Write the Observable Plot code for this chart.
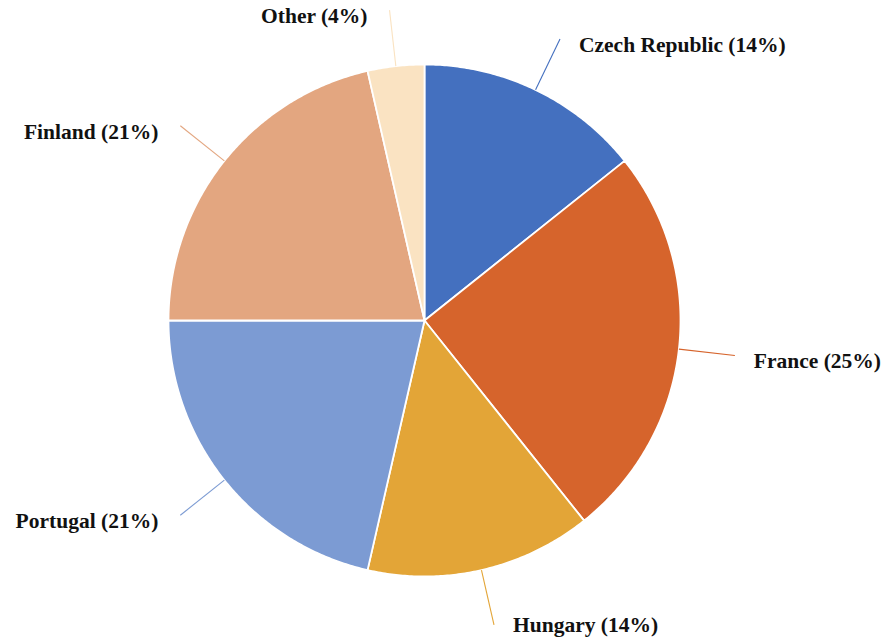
<!DOCTYPE html>
<html>
<head>
<meta charset="utf-8">
<script src="https://cdn.jsdelivr.net/npm/d3@7"></script>
<script src="https://cdn.jsdelivr.net/npm/@observablehq/plot@0.6"></script>
<style>
  html, body { margin: 0; padding: 0; background: #ffffff; }
  #chart { width: 888px; height: 641px; }
</style>
</head>
<body>
<div id="chart"></div>
<script>
// Data
const categories = ["Czech Republic", "France", "Hungary", "Portugal", "Finland", "Other"];
const values = [4, 7, 4, 6, 6, 1];            // shares (sum 28)
const percentLabels = ["14%", "25%", "14%", "21%", "21%", "4%"];
const colors = ["#4470BF", "#D6642C", "#E3A537", "#7C9BD3", "#E3A680", "#FAE3C2"];

// Build pie geometry from values (angles clockwise from 12 o'clock)
const total = d3.sum(values);
let acc = 0;
const slices = categories.map((name, i) => {
  const a0 = acc / total * 2 * Math.PI;
  acc += values[i];
  const a1 = acc / total * 2 * Math.PI;
  return {name, a0, a1, mid: (a0 + a1) / 2, label: `${name} (${percentLabels[i]})`};
});

const slicePts = [];
for (const s of slices) {
  slicePts.push({name: s.name, x: 0, y: 0});
  const n = Math.max(2, Math.ceil((s.a1 - s.a0) / (Math.PI / 360)));
  for (let k = 0; k <= n; k++) {
    const a = s.a0 + (s.a1 - s.a0) * k / n;
    slicePts.push({name: s.name, x: Math.sin(a), y: Math.cos(a)});
  }
  slicePts.push({name: s.name, x: 0, y: 0});
}

const R = 256, cx = 424, cy = 320, W = 888, H = 641;
const rOut = 1.22;
const yMinLabel = -(H - cy - 22) / R;   // keep bottom label inside the frame

const leaders = slices.map(s => ({
  name: s.name,
  label: s.label,
  x1: Math.sin(s.mid), y1: Math.cos(s.mid),
  x2: rOut * Math.sin(s.mid), y2: rOut * Math.cos(s.mid),
  ly: Math.max(yMinLabel, rOut * Math.cos(s.mid)),
  right: Math.sin(s.mid) >= 0
}));

const chart = Plot.plot({
  width: W,
  height: H,
  margin: 0,
  x: {domain: [-cx / R, (W - cx) / R], range: [0, W], axis: null},
  y: {domain: [-(H - cy) / R, cy / R], range: [H, 0], axis: null},
  color: {domain: categories, range: colors},
  style: {background: "#ffffff"},
  marks: [
    Plot.line(slicePts, {x: "x", y: "y", z: "name", fill: "name", stroke: "#ffffff", strokeWidth: 1.8, strokeLinejoin: "round", curve: "linear"}),
    Plot.link(leaders, {x1: "x1", y1: "y1", x2: "x2", y2: "y2", stroke: "name", strokeWidth: 1.1}),
    Plot.text(leaders.filter(d => d.right), {x: "x2", y: "ly", text: "label", textAnchor: "start", dx: 19, dy: 6,
      fontFamily: "Liberation Serif", fontWeight: "bold", fontSize: 21.5, fill: "#111111"}),
    Plot.text(leaders.filter(d => !d.right), {x: "x2", y: "ly", text: "label", textAnchor: "end", dx: -22, dy: 6,
      fontFamily: "Liberation Serif", fontWeight: "bold", fontSize: 21.5, fill: "#111111"})
  ]
});

document.getElementById("chart").appendChild(chart);
</script>
</body>
</html>
